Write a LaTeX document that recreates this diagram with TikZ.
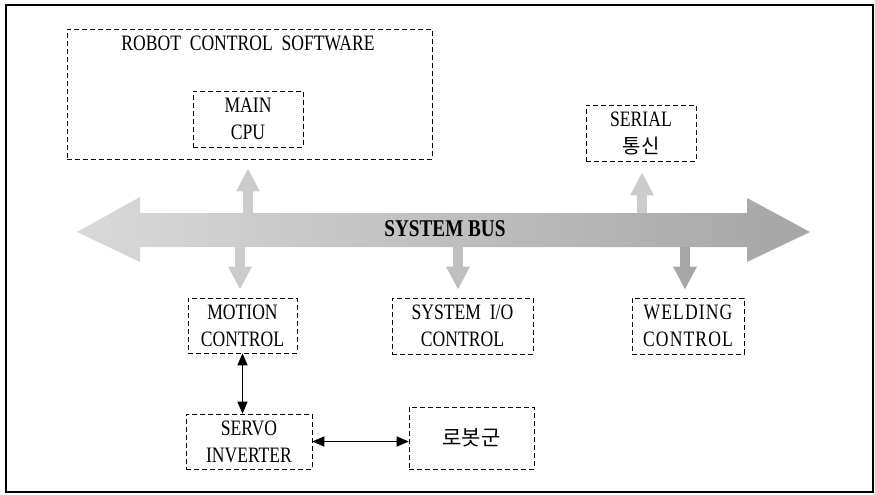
\documentclass[tikz,border=0pt]{standalone}
\usepackage{fontspec}
\setmainfont{Liberation Serif}[FakeStretch=0.8]
\newfontfamily\kr{Noto Sans CJK KR}
\usetikzlibrary{arrows.meta}
\begin{document}
\begin{tikzpicture}[x=1pt,y=-1pt,
  box/.style={draw, dash pattern=on 5pt off 3pt, line width=0.6pt, inner sep=0pt, align=center,
    font=\fontsize{22}{27}\selectfont},
  link/.style={line width=1.4pt, {Triangle[length=12pt,width=10pt]}-{Triangle[length=12pt,width=10pt]}},
  tap/.style={line width=10pt, draw=#1, -{Triangle[length=23pt,width=22pt]}},
  tap/.default={gray!40}
]
\useasboundingbox (0,0) rectangle (875,495);
\draw[line width=1.2pt] (6,5) rectangle (873,492);

% boxes
\node[box, minimum width=365pt, minimum height=130pt] (rcs) at (249.5,94) {};
\node[font=\fontsize{22}{27}\selectfont] (rcslabel) at (248,43) {ROBOT\ \ CONTROL\ \ SOFTWARE};
\node[box, minimum width=110pt, minimum height=56pt] (cpu) at (248,119) {MAIN\\CPU};
\node[box, minimum width=110pt, minimum height=56pt] (serial) at (641,133) {SERIAL\\{\kr\fontsize{20}{27}\selectfont 통신}};
\node[box, minimum width=109pt, minimum height=55pt] (motion) at (242.5,325.5) {MOTION\\CONTROL};
\node[box, minimum width=141pt, minimum height=56pt] (sysio) at (462.5,326) {SYSTEM\ \ I/O\\CONTROL};
\node[box, minimum width=112pt, minimum height=56pt, font=\fontsize{22}{27}\selectfont\addfontfeatures{LetterSpace=5}] (welding) at (688,326) {WELDING\\CONTROL};
\node[box, minimum width=126pt, minimum height=55pt] (servo) at (249,441.5) {SERVO\\INVERTER};
\node[box, minimum width=125pt, minimum height=62pt, font=\kr\fontsize{21}{24}\selectfont] (robot) at (471.5,438) {로봇군};

% system bus
\path[left color=gray!30, middle color=gray!20, right color=gray!70]
  (77,232) -- (140,197) -- (140,213) -- (747,213) -- (747,198) -- (810,232)
  -- (747,262) -- (747,247) -- (140,247) -- (140,262) -- cycle;
\node[font=\bfseries\fontsize{24}{27}\selectfont] (bus) at (445,229) {SYSTEM BUS};

\coordinate (t1) at (248,213);
\coordinate (t2) at (240,247);
\coordinate (t3) at (458,247);
\coordinate (t4) at (642,213);
\coordinate (t5) at (685,247);

\draw[tap, shorten >=9pt] (t1) -- (t1 |- rcs.south);
\draw[tap, shorten >=8pt] (t2) -- (t2 |- motion.north);
\draw[tap=gray!50, shorten >=8pt] (t3) -- (t3 |- sysio.north);
\draw[tap, shorten >=11pt] (t4) -- (t4 |- serial.south);
\draw[tap=gray!70, shorten >=8pt] (t5) -- (t5 |- welding.north);

% links
\draw[link] (motion.south) -- (motion.south |- servo.north);
\draw[link] (servo.east) -- (robot.west |- servo.east);
\end{tikzpicture}
\end{document}
